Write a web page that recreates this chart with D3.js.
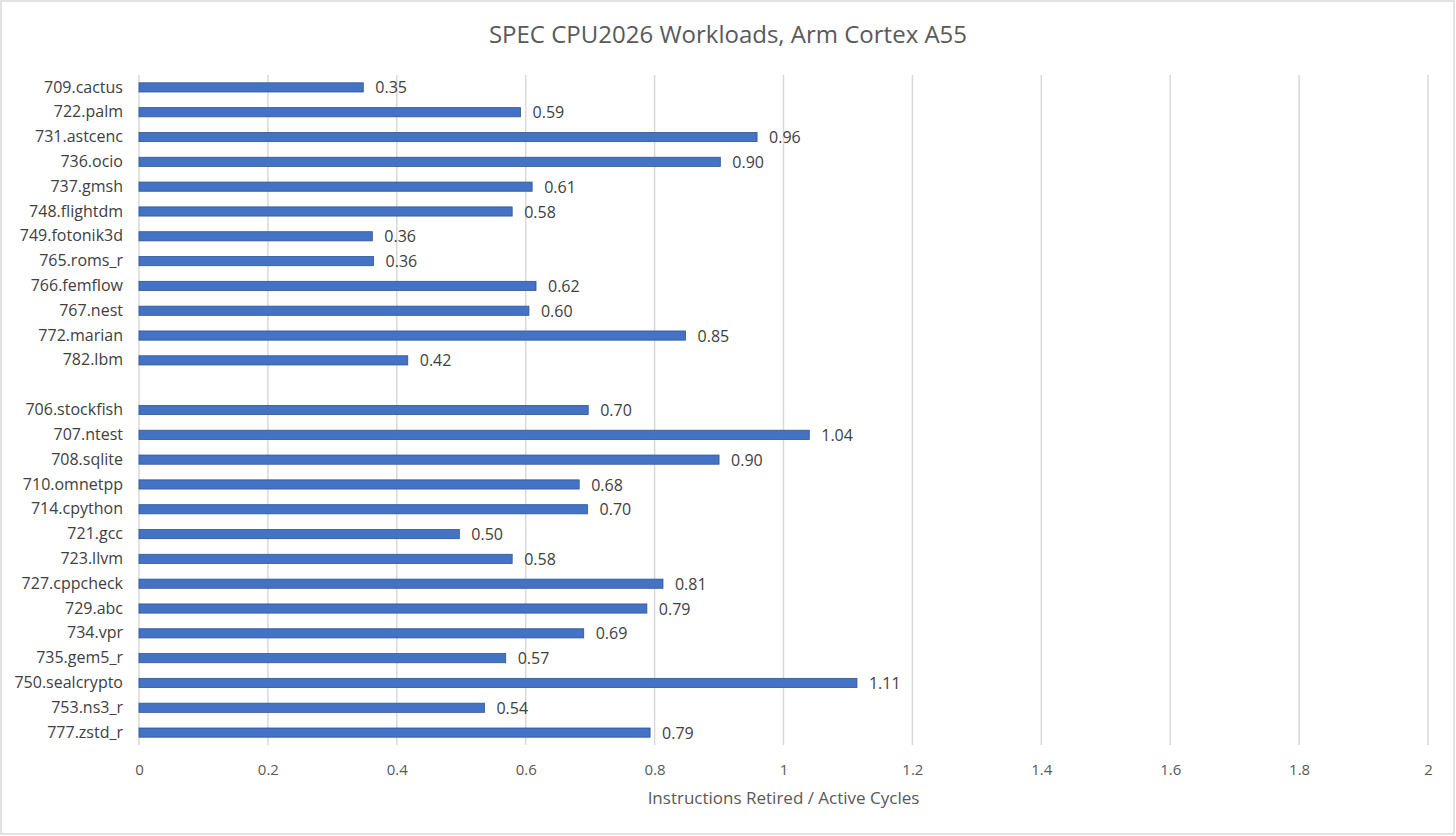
<!DOCTYPE html>
<html>
<head>
<meta charset="utf-8">
<script src="https://cdn.jsdelivr.net/npm/d3@7"></script>
<style>
  html, body { margin: 0; padding: 0; background: #fff; }
  svg { display: block; font-family: "Open Sans", "Noto Sans", sans-serif; }
</style>
</head>
<body>
<div id="chart"></div>
<script>
// workloads, top to bottom; "" marks the empty row between the FP and INT groups
const workloads = [
    "709.cactus", "722.palm", "731.astcenc", "736.ocio", "737.gmsh", "748.flightdm",
    "749.fotonik3d", "765.roms_r", "766.femflow", "767.nest", "772.marian", "782.lbm",
    "",
    "706.stockfish", "707.ntest", "708.sqlite", "710.omnetpp", "714.cpython", "721.gcc",
    "723.llvm", "727.cppcheck", "729.abc", "734.vpr", "735.gem5_r", "750.sealcrypto",
    "753.ns3_r", "777.zstd_r"
];
const ipc = [
    0.348, 0.592, 0.959, 0.902, 0.610, 0.579,
    0.362, 0.364, 0.616, 0.605, 0.848, 0.417,
    null,
    0.697, 1.040, 0.900, 0.683, 0.696, 0.497,
    0.579, 0.813, 0.788, 0.690, 0.569, 1.114,
    0.536, 0.793
];
const xTicks = [0, 0.2, 0.4, 0.6, 0.8, 1, 1.2, 1.4, 1.6, 1.8, 2];
const chartTitle = "SPEC CPU2026 Workloads, Arm Cortex A55";
const xTitle = "Instructions Retired / Active Cycles";

const width = 1456;
const height = 836;
const plot = { left: 139, right: 1428, top: 75, bottom: 745 };

const rows = workloads.map((name, i) => ({ key: "r" + i, name, value: ipc[i] }));

const svg = d3.select("#chart").append("svg")
    .attr("width", width)
    .attr("height", height);

// outer chart border
svg.append("rect")
    .attr("x", 1).attr("y", 1)
    .attr("width", width - 3).attr("height", height - 3)
    .attr("fill", "#fff")
    .attr("stroke", "#d9d9d9")
    .attr("stroke-width", 1.5);

const x = d3.scaleLinear().domain([0, 2]).range([plot.left, plot.right]);
const y = d3.scaleBand()
    .domain(rows.map(d => d.key))
    .range([plot.top, plot.bottom])
    .paddingInner(0.63)
    .paddingOuter(0.315);

// ── Gridlines ───────────────────────────────────────────────
svg.append("g")
    .selectAll("line")
    .data(xTicks)
    .join("line")
    .attr("x1", d => x(d)).attr("x2", d => x(d))
    .attr("y1", plot.top).attr("y2", plot.bottom)
    .attr("stroke", "#d9d9d9")
    .attr("stroke-width", 1.5);

// ── X axis labels ───────────────────────────────────────────
const xAxis = svg.append("g")
    .attr("transform", `translate(0,${plot.bottom})`)
    .call(d3.axisBottom(x).tickValues(xTicks).tickSize(0).tickPadding(19).tickFormat(d3.format("")));
xAxis.select(".domain").remove();
xAxis.selectAll("text")
    .attr("fill", "#595959")
    .attr("font-size", "15px")
    .attr("font-family", "'Open Sans', 'Noto Sans', sans-serif");

// ── Y axis labels ───────────────────────────────────────────
const nameByKey = new Map(rows.map(d => [d.key, d.name]));
const yAxis = svg.append("g")
    .attr("transform", `translate(${plot.left},0)`)
    .call(d3.axisLeft(y).tickSize(0).tickPadding(16).tickFormat(k => nameByKey.get(k)));
yAxis.select(".domain").remove();
yAxis.selectAll("text")
    .attr("fill", "#404040")
    .attr("font-size", "16px")
    .attr("font-family", "'Open Sans', 'Noto Sans', sans-serif");

// ── Bars ────────────────────────────────────────────────────
const data = rows.filter(d => d.value != null);

svg.append("g")
    .selectAll("rect")
    .data(data)
    .join("rect")
    .attr("x", x(0))
    .attr("y", d => y(d.key))
    .attr("width", d => x(d.value) - x(0))
    .attr("height", y.bandwidth())
    .attr("fill", "#4472c4")
    .attr("stroke", "#2f5597")
    .attr("stroke-width", 0.8);

// ── Data labels ─────────────────────────────────────────────
svg.append("g")
    .selectAll("text")
    .data(data)
    .join("text")
    .attr("x", d => x(d.value) + 12)
    .attr("y", d => y(d.key) + y.bandwidth() / 2)
    .attr("dy", "0.38em")
    .attr("fill", "#404040")
    .attr("font-size", "16px")
    .text(d => d3.format(".2f")(d.value));

// ── Titles ──────────────────────────────────────────────────
svg.append("text")
    .attr("x", width / 2)
    .attr("y", 35)
    .attr("dy", "0.35em")
    .attr("text-anchor", "middle")
    .attr("fill", "#595959")
    .attr("font-size", "24px")
    .text(chartTitle);

svg.append("text")
    .attr("x", (plot.left + plot.right) / 2)
    .attr("y", 798)
    .attr("dy", "0.35em")
    .attr("text-anchor", "middle")
    .attr("fill", "#595959")
    .attr("font-size", "17px")
    .text(xTitle);
</script>
</body>
</html>
